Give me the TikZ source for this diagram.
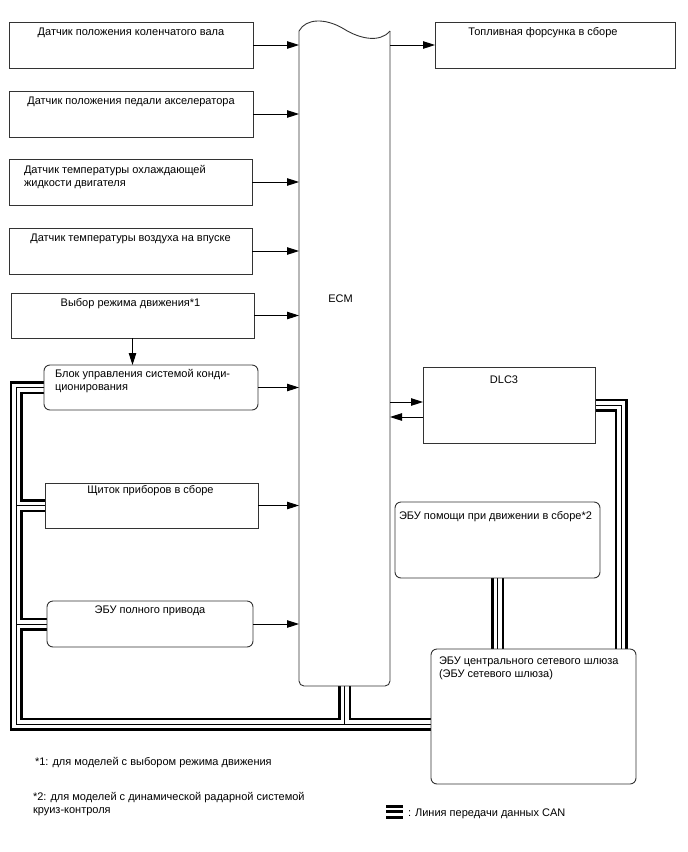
\documentclass[tikz,border=0pt]{standalone}
\usepackage{fontspec}
\setmainfont{Liberation Sans}
\usetikzlibrary{arrows.meta,calc,backgrounds}
\begin{document}
\begin{tikzpicture}[x=1pt,y=-1pt,
  box/.style={draw=black!80, line width=0.9pt, rectangle, inner sep=0pt, outer sep=0pt, anchor=north west},
  rbox/.style={box, rounded corners=6pt},
  ghost/.style={rectangle, draw=none, inner sep=0pt, outer sep=0pt, anchor=north west},
  txt/.style={font=\fontsize{11}{13}\selectfont, inner sep=0pt, outer sep=0pt},
  arr/.style={line width=0.9pt, -{Triangle[length=12pt,width=7.5pt]}},
  ecmline/.style={draw=black!80, line width=0.9pt},
  legbar/.style={fill=black}
]
\useasboundingbox (0,0) rectangle (688,852);

% boxes
\node[box,  minimum width=244pt, minimum height=46pt] (crank)   at (9,22)    {};
\node[box,  minimum width=244pt, minimum height=46pt] (accel)   at (9,91)    {};
\node[box,  minimum width=243pt, minimum height=46pt] (coolant) at (9,159)   {};
\node[box,  minimum width=243pt, minimum height=46pt] (intake)  at (9,228)   {};
\node[box,  minimum width=243pt, minimum height=45pt] (drive)   at (11,293)  {};
\node[rbox, minimum width=214pt, minimum height=45pt] (ac)      at (44,365)  {};
\node[box,  minimum width=213pt, minimum height=45pt] (meter)   at (45,483)  {};
\node[rbox, minimum width=206pt, minimum height=46pt] (fwd)     at (47,601)  {};
\node[ghost,minimum width=91pt,  minimum height=655pt] (ecm)    at (299,31)  {};
\node[box,  minimum width=240pt, minimum height=46pt] (fuel)    at (435,22)  {};
\node[box,  minimum width=172pt, minimum height=76pt] (dlc)     at (423,367) {};
\node[rbox, minimum width=205pt, minimum height=76pt] (assist)  at (395,502) {};
\node[rbox, minimum width=205pt, minimum height=135pt] (gw)     at (431,649) {};

% ECM outline
\draw[ecmline] (ecm.north west) .. controls (306,18) and (326,18) .. (344,29)
   .. controls (360,39) and (380,43) .. (ecm.north east);
\draw[ecmline, rounded corners=5pt] (ecm.north east) -- (ecm.south east) -- (ecm.south west) -- (ecm.north west);

% texts
\node[txt, anchor=base] (tcrank) at ($(crank.north)+(0,13)$) {Датчик положения коленчатого вала};
\node[txt, anchor=base] (taccel) at ($(accel.north)+(0,13)$) {Датчик положения педали акселератора};
\node[txt, anchor=base west] (tcool1) at ($(coolant.north west)+(15,14)$) {Датчик температуры охлаждающей};
\node[txt, anchor=base west] (tcool2) at ($(coolant.north west)+(15,27)$) {жидкости двигателя};
\node[txt, anchor=base] (tintake) at ($(intake.north)+(0,13)$) {Датчик температуры воздуха на впуске};
\node[txt, anchor=base] (tdrive) at ($(drive.north)+(-2,13)$) {Выбор режима движения*1};
\node[txt, anchor=base west] (tac1) at ($(ac.north west)+(11,12)$) {Блок управления системой конди-};
\node[txt, anchor=base west] (tac2) at ($(ac.north west)+(11,25)$) {ционирования};
\node[txt, anchor=base] (tmeter) at ($(meter.north)+(-1,10)$) {Щиток приборов в сборе};
\node[txt, anchor=base] (tfwd) at ($(fwd.north)+(0,12)$) {ЭБУ полного привода};
\node[txt, anchor=base] (tecm) at ($(ecm.north)+(-4,271)$) {ECM};
\node[txt, anchor=base] (tfuel) at ($(fuel.north)+(-12,13)$) {Топливная форсунка в сборе};
\node[txt, anchor=base] (tdlc) at ($(dlc.north)+(-5,16)$) {DLC3};
\node[txt, anchor=base] (tassist) at ($(assist.north)+(-2,17)$) {ЭБУ помощи при движении в сборе*2};
\node[txt, anchor=base west] (tgw1) at ($(gw.north west)+(8,15)$) {ЭБУ центрального сетевого шлюза};
\node[txt, anchor=base west] (tgw2) at ($(gw.north west)+(8,28)$) {(ЭБУ сетевого шлюза)};

% arrows to ECM
\foreach \b in {crank,accel,coolant,intake,drive,ac,meter,fwd}{
  \draw[arr] (\b.east) -- (\b.east -| ecm.west);
}
\draw[arr] (drive.south) -- (drive.south |- ac.north);
\draw[arr] (ecm.east |- fuel.west) -- (fuel.west);
\coordinate (d1) at ($(dlc.west)+(0,-3)$);
\coordinate (d2) at ($(dlc.west)+(0,12)$);
\draw[arr] (d1 -| ecm.east) -- (d1);
\draw[arr] (d2) -- (d2 -| ecm.east);

% CAN lines
\coordinate (busBL) at (16,724);
\coordinate (busR) at ($(gw.north east)+(-15,0)$);
\begin{pgfonlayer}{background}
\foreach \w/\c in {13/black, 8/white, 1/black}{
  \draw[line width=\w pt, draw=\c, line join=miter]
    (ac.west) -| (busBL) -- (busBL -| gw.west)
    (meter.west) -- (meter.west -| busBL)
    (fwd.west) -- (fwd.west -| busBL)
    (ecm.south) -- (ecm.south |- busBL)
    (dlc.east) -| (busR)
    (assist.south) -- (assist.south |- gw.north);
}
\end{pgfonlayer}

% notes
\node[txt, anchor=base west] (n1) at (35,765) {*1: для моделей с выбором режима движения};
\node[txt, anchor=base west] (n2a) at (33,800) {*2: для моделей с динамической радарной системой};
\node[txt, anchor=base west] (n2b) at (33,813) {круиз-контроля};

% legend
\fill[legbar] (386,805) rectangle (403,808);
\fill[legbar] (386,810) rectangle (403,813);
\fill[legbar] (386,815.5) rectangle (403,818.5);
\node[txt, anchor=base west] (leg) at (408,816) {: Линия передачи данных CAN};
\end{tikzpicture}
\end{document}
